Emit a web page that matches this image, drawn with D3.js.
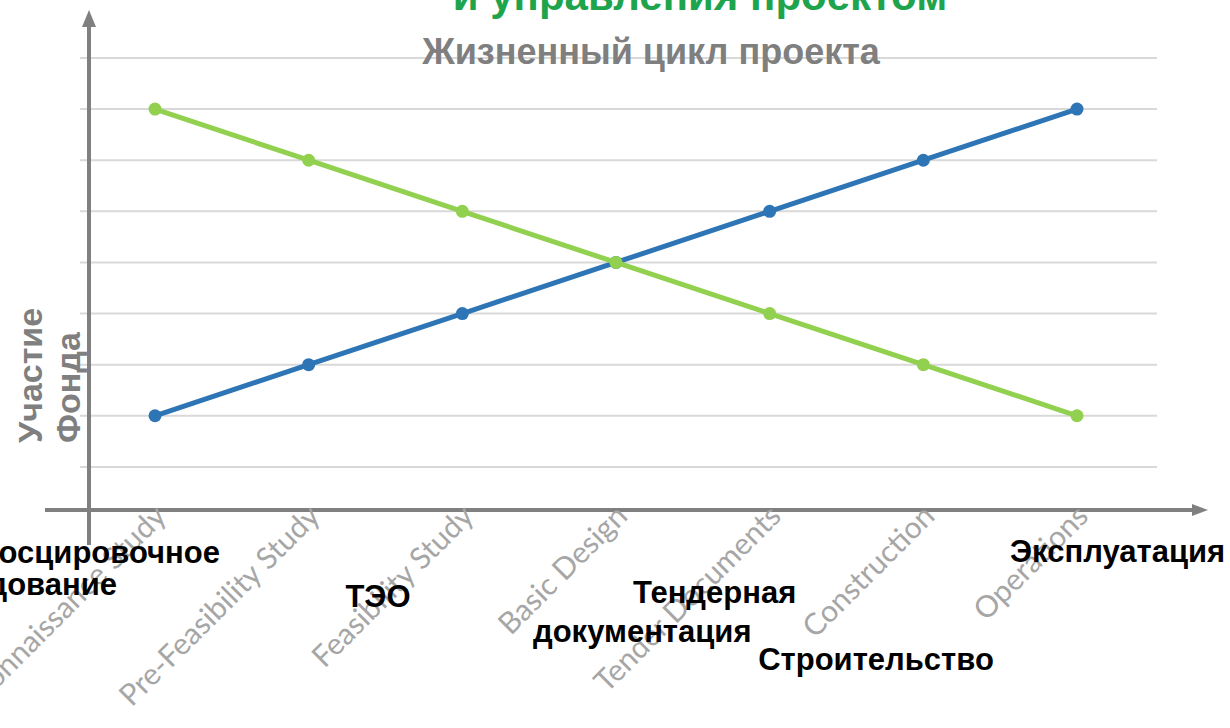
<!DOCTYPE html>
<html>
<head>
<meta charset="utf-8">
<script src="https://cdn.jsdelivr.net/npm/d3@7"></script>
<style>
  html, body { margin: 0; padding: 0; background: #fff; }
  svg { display: block; }
</style>
</head>
<body>
<div id="chart"></div>
<script>
"use strict";

// stages of the project life cycle (x categories)
var stages = ["Reconnaissance Study", "Pre-Feasibility Study", "Feasibility Study",
	"Basic Design", "Tender Documents", "Construction", "Operations"];

// two crossing series, values
var seriesBlue = [2, 3, 4, 5, 6, 7, 8];
var seriesGreen = [8, 7, 6, 5, 4, 3, 2];

// gridline values
var gridTicks = [1, 2, 3, 4, 5, 6, 7, 8, 9];

// russian stage names written under the axis
var stageNamesRu = [
	["Рекогносцировочное", "исследование"],
	["ТЭО"],
	["Тендерная", "документация"],
	["Строительство"],
	["Эксплуатация"]
];

var titleText = "и управления проектом";
var subtitleText = "Жизненный цикл проекта";
var yTitleLines = ["Участие", "Фонда"];

// layout
var W = 1230, H = 728;
var grey = "#808080";
// one [x, baseline, anchor] per line of each russian name
var ruPos = [
	[[220, 563, "end"], [117, 595, "end"]],
	[[378, 607, "middle"]],
	[[633, 603, "start"], [533, 642, "start"]],
	[[876, 670, "middle"]],
	[[1010, 562, "start"]]
];

var svg = d3.select("#chart").append("svg")
	.attr("width", W)
	.attr("height", H);

var x = d3.scalePoint()
	.domain(stages)
	.range([155, 1077]);

var y = d3.scaleLinear()
	.domain([0, 9])
	.range([518, 58]);

// horizontal gridlines
svg.append("g")
	.selectAll("line")
	.data(gridTicks)
	.join("line")
	.attr("x1", 80)
	.attr("x2", 1157)
	.attr("y1", d => y(d))
	.attr("y2", d => y(d))
	.attr("stroke", "#d9d9d9")
	.attr("stroke-width", 2);

// axes drawn as arrows
var axisY = 510;
svg.append("line")
	.attr("x1", 89).attr("x2", 89)
	.attr("y1", 545).attr("y2", 24)
	.attr("stroke", grey).attr("stroke-width", 4);
svg.append("path")
	.attr("d", "M89,10 L82,27 L96,27 Z")
	.attr("fill", grey);
svg.append("line")
	.attr("x1", 45).attr("x2", 1195)
	.attr("y1", axisY).attr("y2", axisY)
	.attr("stroke", grey).attr("stroke-width", 4);
svg.append("path")
	.attr("d", "M1208," + axisY + " L1192," + (axisY - 6) + " L1192," + (axisY + 6) + " Z")
	.attr("fill", grey);

// category labels, rotated
svg.append("g")
	.selectAll("text")
	.data(stages)
	.join("text")
	.attr("transform", d => "translate(" + (x(d) + 13) + "," + 518 + ") rotate(-45)")
	.attr("text-anchor", "end")
	.attr("font-family", "Lato, 'Open Sans', sans-serif")
	.attr("font-size", 30)
	.attr("fill", "#a6a6a6")
	.text(d => d);

// series
var line = d3.line()
	.x((d, i) => x(stages[i]))
	.y(d => y(d));

[[seriesBlue, "#2e75b6"], [seriesGreen, "#92d050"]].forEach(function(s) {
	svg.append("path")
		.datum(s[0])
		.attr("d", line)
		.attr("fill", "none")
		.attr("stroke", s[1])
		.attr("stroke-width", 5)
		.attr("stroke-linejoin", "round");
	svg.append("g")
		.selectAll("circle")
		.data(s[0])
		.join("circle")
		.attr("cx", (d, i) => x(stages[i]))
		.attr("cy", d => y(d))
		.attr("r", 6.5)
		.attr("fill", s[1]);
});

// titles
svg.append("text")
	.attr("x", 700).attr("y", 10)
	.attr("text-anchor", "middle")
	.attr("font-family", "'Liberation Sans', Arial, sans-serif")
	.attr("font-weight", "bold")
	.attr("font-size", 42)
	.attr("fill", "#1ea44c")
	.text(titleText);

svg.append("text")
	.attr("x", 651).attr("y", 64)
	.attr("text-anchor", "middle")
	.attr("font-family", "'Liberation Sans', Arial, sans-serif")
	.attr("font-weight", "bold")
	.attr("font-size", 36)
	.attr("fill", "#7f7f7f")
	.text(subtitleText);

// y axis title
var yt = svg.append("text")
	.attr("transform", "translate(0,443) rotate(-90)")
	.attr("text-anchor", "start")
	.attr("font-family", "'Liberation Sans', Arial, sans-serif")
	.attr("font-weight", "bold")
	.attr("font-size", 34)
	.attr("fill", "#7f7f7f");
yt.selectAll("tspan")
	.data(yTitleLines)
	.join("tspan")
	.attr("x", 0)
	.attr("y", (d, i) => 42 + i * 38)
	.text(d => d);

// russian stage names, one text per line
stageNamesRu.forEach(function(lines, k) {
	lines.forEach(function(txt, j) {
		var p = ruPos[k][j];
		svg.append("text")
			.attr("x", p[0])
			.attr("y", p[1])
			.attr("text-anchor", p[2])
			.attr("font-family", "'Liberation Sans', Arial, sans-serif")
			.attr("font-weight", "bold")
			.attr("font-size", 31)
			.attr("fill", "#000")
			.text(txt);
	});
});
</script>
</body>
</html>
